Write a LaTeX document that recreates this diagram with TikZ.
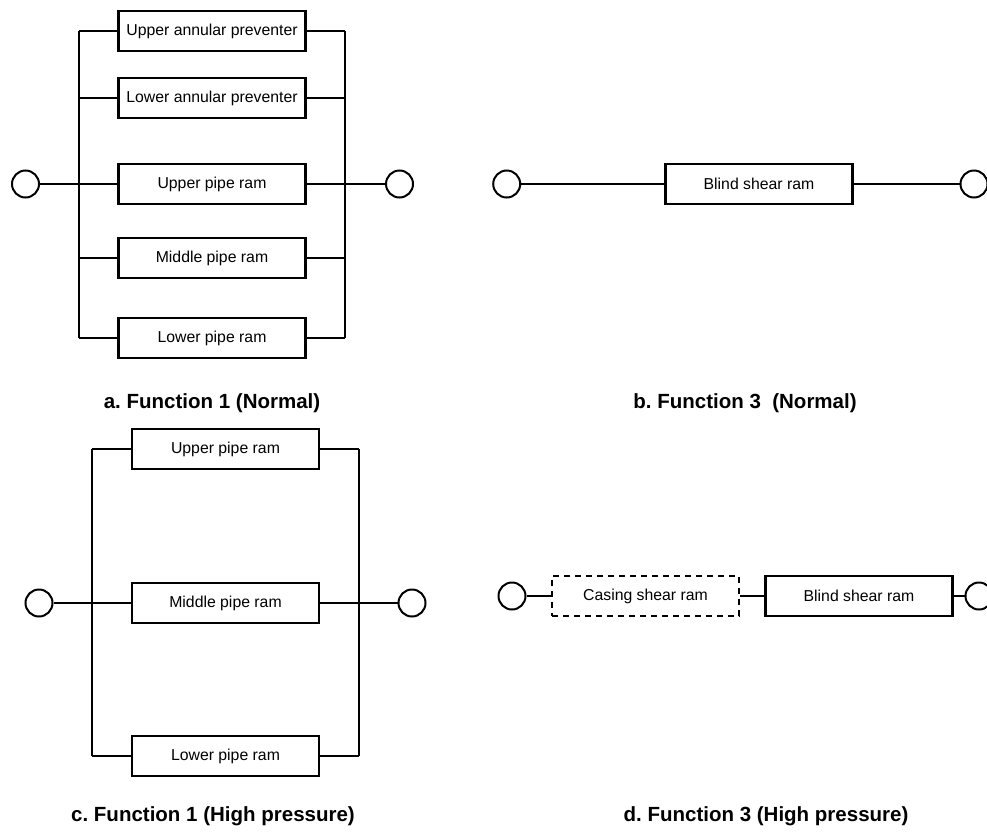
\documentclass[tikz,border=0pt]{standalone}
\usepackage{fontspec}
\setmainfont{Liberation Sans}
\frenchspacing
\begin{document}
\begin{tikzpicture}[x=1pt,y=-1pt,
  ram/.style={draw,line width=2.3pt,minimum width=187pt,minimum height=40pt,inner sep=0pt,
    font=\fontsize{15.8}{18}\selectfont},
  optram/.style={ram,dashed,dash pattern=on 6pt off 5pt},
  port/.style={draw,circle,line width=2pt,minimum size=27pt,inner sep=0pt},
  wire/.style={line width=2pt},
  caption/.style={anchor=base,font=\fontsize{20.5}{24}\selectfont\bfseries}]
\useasboundingbox (0,0) rectangle (987,833);

% ---- a. Function 1 (Normal): five preventers in parallel
\node[ram] (a1) at (212,31)  {Upper annular preventer};
\node[ram] (a2) at (212,98)  {Lower annular preventer};
\node[ram] (a3) at (212,184) {Upper pipe ram};
\node[ram] (a4) at (212,258) {Middle pipe ram};
\node[ram] (a5) at (212,338) {Lower pipe ram};
\node[port] (ain)  at (25.5,184) {};
\node[port] (aout) at (399.5,184) {};
\coordinate (aL) at (79,0);
\coordinate (aR) at (345,0);
\foreach \b in {a1,a2,a3,a4,a5}{
  \draw[wire] (\b.west) -- (\b.west -| aL);
  \draw[wire] (\b.east) -- (\b.east -| aR);
}
\draw[wire] (a1.west -| aL) -- (a5.west -| aL);
\draw[wire] (a1.east -| aR) -- (a5.east -| aR);
\draw[wire] (ain) -- (a3.west);
\draw[wire] (a3.east) -- (aout);
\node[caption] (capa) at (212,408) {a. Function 1 (Normal)};

% ---- b. Function 3 (Normal): blind shear ram alone
\node[ram] (b1) at (759,184) {Blind shear ram};
\node[port] (bin)  at (506.7,184) {};
\node[port] (bout) at (974,184) {};
\draw[wire] (bin) -- (b1);
\draw[wire] (b1) -- (bout);
\node[caption] (capb) at (745,408) {b. Function 3\ \ (Normal)};

% ---- c. Function 1 (High pressure): three pipe rams in parallel
\node[ram] (c1) at (225.5,449) {Upper pipe ram};
\node[ram] (c2) at (225.5,603) {Middle pipe ram};
\node[ram] (c3) at (225.5,756) {Lower pipe ram};
\node[port] (cin)  at (39,603) {};
\node[port] (cout) at (412,603) {};
\coordinate (cL) at (91.7,0);
\coordinate (cR) at (359,0);
\foreach \b in {c1,c2,c3}{
  \draw[wire] (\b.west) -- (\b.west -| cL);
  \draw[wire] (\b.east) -- (\b.east -| cR);
}
\draw[wire] (c1.west -| cL) -- (c3.west -| cL);
\draw[wire] (c1.east -| cR) -- (c3.east -| cR);
\draw[wire] (cin) -- (c2.west);
\draw[wire] (c2.east) -- (cout);
\node[caption] (capc) at (213,821.7) {c. Function 1 (High pressure)};

% ---- d. Function 3 (High pressure): casing shear ram then blind shear ram
\node[optram] (d1) at (645.5,596) {Casing shear ram};
\node[ram]    (d2) at (859,596)   {Blind shear ram};
\node[port] (din)  at (512,596) {};
\node[port] (dout) at (979,596) {};
\draw[wire] (din) -- (d1);
\draw[wire] (d1) -- (d2);
\draw[wire] (d2) -- (dout);
\node[caption] (capd) at (766,821.7) {d. Function 3 (High pressure)};
\end{tikzpicture}
\end{document}
